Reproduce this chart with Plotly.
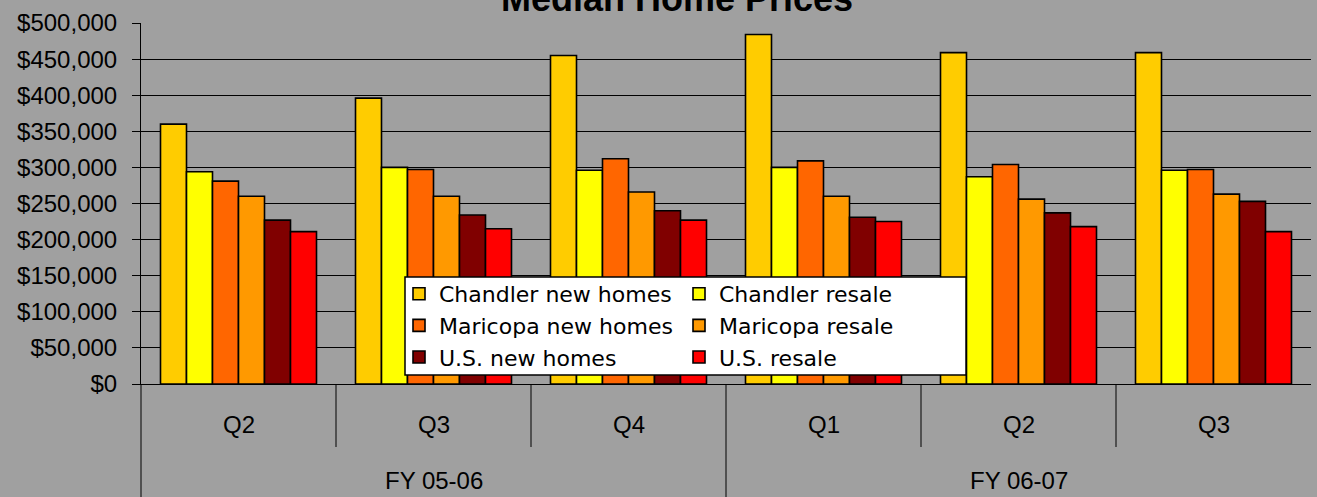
import plotly.graph_objects as go

# ---- data ----
quarters = ["Q2", "Q3", "Q4", "Q1", "Q2", "Q3"]
fiscal_years = ["FY 05-06", "FY 05-06", "FY 05-06", "FY 06-07", "FY 06-07", "FY 06-07"]
categories = [f"{fy} {q}" for fy, q in zip(fiscal_years, quarters)]

chandler_new = [360000, 396000, 455000, 484000, 459000, 459000]
chandler_resale = [294000, 300000, 296000, 300000, 287000, 296000]
maricopa_new = [281000, 297000, 312000, 309000, 304000, 297000]
maricopa_resale = [260000, 260000, 266000, 260000, 256000, 263000]
us_new = [227000, 234000, 240000, 231000, 237000, 253000]
us_resale = [211000, 215000, 227000, 225000, 218000, 211000]

series = [
    ("Chandler new homes", chandler_new, "#FFCC00", "legend"),
    ("Chandler resale", chandler_resale, "#FFFF00", "legend2"),
    ("Maricopa new homes", maricopa_new, "#FF6600", "legend"),
    ("Maricopa resale", maricopa_resale, "#FF9900", "legend2"),
    ("U.S. new homes", us_new, "#800000", "legend"),
    ("U.S. resale", us_resale, "#FF0000", "legend2"),
]

BG = "#A0A0A0"
TICK_FONT = dict(family="Liberation Sans, Arial", size=24, color="black")
LEG_FONT = dict(family="DejaVu Sans", size=22, color="black")

fig = go.Figure()
for name, vals, color, leg in series:
    fig.add_trace(go.Bar(
        x=categories, y=vals, name=name, legend=leg,
        marker=dict(color=color, line=dict(color="black", width=1.6)),
    ))

# plot area geometry (pixels) used only for layout placement
W, H = 1317, 497
L, R, T, B = 141, 6, 23, 113
pw, ph = W - L - R, H - T - B

def px_x(p):
    return (p - L) / pw

def px_y(p):
    return (H - B - p) / ph

# legend box (white rectangle with border) behind two legend columns
shapes = [dict(type="rect", xref="paper", yref="paper",
               x0=px_x(405), x1=px_x(966), y0=px_y(375), y1=px_y(277),
               fillcolor="white", line=dict(color="black", width=1.5), layer="above")]

# category divider lines below the axis
n = len(categories)
for i in range(1, n):
    b = i - 0.5
    fy_break = fiscal_years[i] != fiscal_years[i - 1]
    y_end = px_y(H) if fy_break else px_y(447)
    shapes.append(dict(type="line", xref="x", yref="paper", x0=b, x1=b,
                       y0=0, y1=y_end, line=dict(color="black", width=1), layer="above"))
# left edge line continuing down
shapes.append(dict(type="line", xref="paper", yref="paper", x0=0, x1=0,
                   y0=0, y1=px_y(H), line=dict(color="black", width=1), layer="above"))

annotations = []
for i, q in enumerate(quarters):
    annotations.append(dict(x=i, y=px_y(424), xref="x", yref="paper", text=q,
                            showarrow=False, xanchor="center", yanchor="middle",
                            font=TICK_FONT))
fy_unique = []
for fy in fiscal_years:
    if fy not in fy_unique:
        fy_unique.append(fy)
for fy in fy_unique:
    idx = [i for i, f in enumerate(fiscal_years) if f == fy]
    annotations.append(dict(x=(idx[0] + idx[-1]) / 2, y=px_y(481), xref="x", yref="paper",
                            text=fy, showarrow=False, xanchor="center", yanchor="middle",
                            font=TICK_FONT))

fig.update_layout(
    width=W, height=H,
    margin=dict(l=L, r=R, t=T, b=B, autoexpand=False),
    paper_bgcolor=BG, plot_bgcolor=BG,
    barmode="group", bargap=0.2, bargroupgap=0,
    title=dict(text="<b>Median Home Prices</b>", xref="container", yref="container",
               x=677 / W, xanchor="center", y=1 - 11 / H, yanchor="bottom",
               font=dict(family="Liberation Sans, Arial", size=36, color="black")),
    showlegend=True,
    legend=dict(x=px_x(399), y=px_y(273), xanchor="left", yanchor="top",
                bgcolor="rgba(0,0,0,0)", borderwidth=0, font=LEG_FONT,
                traceorder="normal", orientation="v"),
    legend2=dict(x=px_x(679), y=px_y(273), xanchor="left", yanchor="top",
                 bgcolor="rgba(0,0,0,0)", borderwidth=0, font=LEG_FONT,
                 traceorder="normal", orientation="v"),
    xaxis=dict(type="category", showticklabels=False, showgrid=False, ticks="",
               showline=True, linecolor="black", linewidth=1, zeroline=False),
    yaxis=dict(range=[0, 500000], dtick=50000, tickformat="$,.0f",
               showgrid=True, gridcolor="black", gridwidth=1,
               showline=True, linecolor="black", linewidth=1,
               ticks="outside", ticklen=8, tickcolor="black", tickwidth=1,
               ticklabelstandoff=10, tickfont=TICK_FONT, zeroline=False),
    shapes=shapes,
    annotations=annotations,
)

fig.write_html(
    "out.html",
    config={"displayModeBar": False},
    post_script="document.body.style.margin='0';document.body.style.overflow='hidden';",
)
